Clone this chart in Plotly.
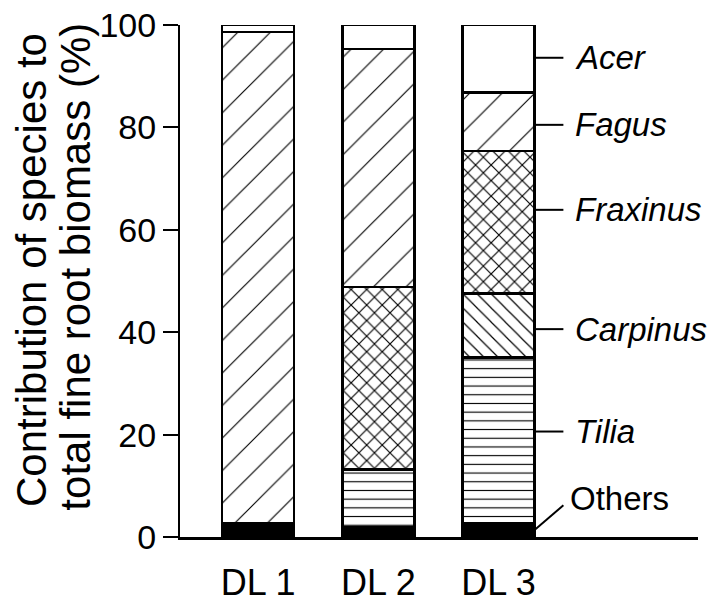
import plotly.graph_objects as go

# Stacked contribution (%) of each species to total fine root biomass
sites = ["DL 1", "DL 2", "DL 3"]
others = [2.7, 1.9, 2.7]
tilia = [None, 11.3, 32.4]
carpinus = [None, None, 12.5]
fraxinus = [None, 35.6, 27.8]
fagus = [95.9, 46.5, 11.4]
acer = [1.4, 4.7, 13.2]

species_labels = ["Acer", "Fagus", "Fraxinus", "Carpinus", "Tilia"]
species_label_y = [93.6, 80.5, 63.9, 40.6, 20.6]
others_label_y = 7.6
y_ticks = [0, 20, 40, 60, 80, 100]
y_title_lines = ["Contribution of species to", "total fine root biomass (%)"]

FONT = "Liberation Sans, Arial, sans-serif"
BAR_W = 0.6
OUTLINE = dict(color="black", width=2.5)

fig = go.Figure()

def add_segment(values, name, color="white", shape="", size=10, solidity=0.2):
    pattern = dict(shape=shape, fgcolor="black", bgcolor=color,
                   size=size, solidity=solidity, fillmode="replace") if shape else None
    fig.add_trace(go.Bar(
        x=sites, y=values, name=name, width=BAR_W,
        marker=dict(color=color, line=OUTLINE, pattern=pattern),
        showlegend=False, hoverinfo="y+name",
    ))

add_segment(others, "Others", color="black")
add_segment(tilia, "Tilia", shape="-", size=8.7, solidity=0.13)
add_segment(carpinus, "Carpinus", shape="\\", size=10, solidity=0.12)
add_segment(fraxinus, "Fraxinus", shape="x", size=11, solidity=0.2)
add_segment(fagus, "Fagus", shape="/", size=23, solidity=0.05)
add_segment(acer, "Acer")

# Species names with leader lines, to the right of the last bar
bar_edge = 2 + BAR_W / 2
lead_end = bar_edge + 0.24
text_x = lead_end + 0.08
for name, yv in zip(species_labels, species_label_y):
    fig.add_shape(type="line", xref="x", yref="y", x0=bar_edge, x1=lead_end,
                  y0=yv, y1=yv, line=dict(color="black", width=2))
    fig.add_annotation(x=text_x, y=yv, xref="x", yref="y", text=f"<i>{name}</i>",
                       showarrow=False, xanchor="left", yanchor="middle",
                       font=dict(family=FONT, size=33, color="black"))

fig.add_shape(type="line", xref="x", yref="y", x0=bar_edge, x1=lead_end,
              y0=others[2] / 2, y1=others_label_y - 1.4,
              line=dict(color="black", width=2))
fig.add_annotation(x=text_x - 0.04, y=others_label_y, xref="x", yref="y", text="Others",
                   showarrow=False, xanchor="left", yanchor="middle",
                   font=dict(family=FONT, size=33, color="black"))

# Rotated y-axis title, one annotation per line for tight line spacing
for line, xp, yp in zip(y_title_lines, [-0.2857, -0.2008], [0.5215, 0.528]):
    fig.add_annotation(x=xp, y=yp, xref="paper", yref="paper", text=line,
                       textangle=-90, showarrow=False, xanchor="center", yanchor="middle",
                       font=dict(family=FONT, size=42, color="black"))

fig.update_layout(
    width=710, height=602,
    margin=dict(l=180, r=12, t=25, b=65, autoexpand=False),
    barmode="stack",
    plot_bgcolor="white", paper_bgcolor="white",
    font=dict(family=FONT, size=34, color="black"),
    xaxis=dict(range=[-0.65, 3.66], showline=True, linecolor="black", linewidth=2.5,
               ticks="", showgrid=False, zeroline=False, ticklabelstandoff=12,
               automargin=False,
               tickfont=dict(family=FONT, size=36, color="black")),
    yaxis=dict(range=[0, 100], showline=True, linecolor="black", linewidth=2,
               ticks="outside", ticklen=15, tickwidth=2, tickcolor="black",
               tickvals=y_ticks, showgrid=False, zeroline=False, automargin=False,
               tickfont=dict(family=FONT, size=34, color="black")),
)

fig.write_html("out.html")
